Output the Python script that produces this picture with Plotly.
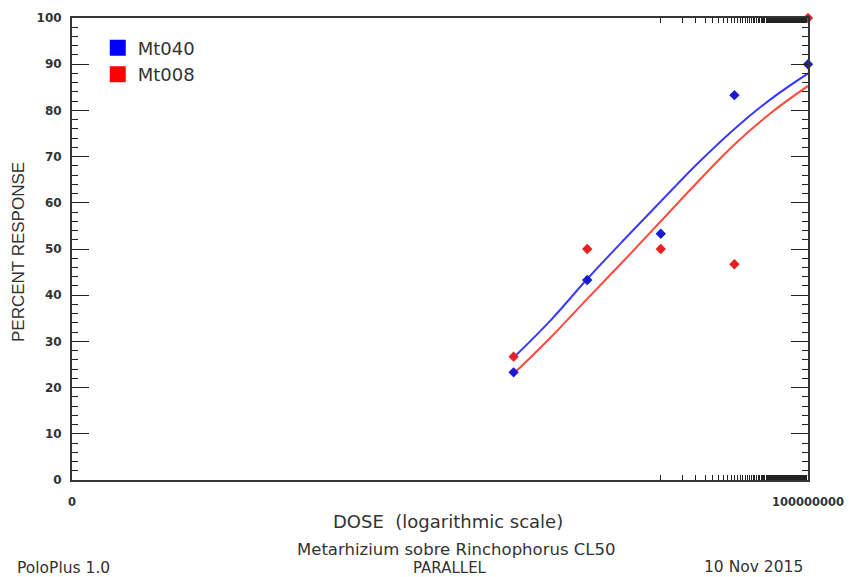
import plotly.graph_objects as go

# Observed data
doses = [1e4, 1e5, 1e6, 1e7, 1e8]
mt040_resp = [23.3, 43.3, 53.3, 83.3, 90.0]
mt008_resp = [26.7, 50.0, 50.0, 46.7, 100.0]

# Fitted (parallel probit) curves
curve_doses = [1e4, 3.16e4, 1e5, 3.16e5, 1e6, 3.16e6, 1e7, 3.16e7, 1e8]
mt040_fit = [26.5, 34.5, 43.5, 52.0, 60.3, 68.5, 76.0, 82.5, 88.0]
mt008_fit = [23.0, 30.8, 39.2, 47.5, 56.0, 64.5, 72.6, 79.5, 85.3]

# Axis ticks (linear steps drawn on a log axis, as PoloPlus does)
x_major = [5e6 * k for k in range(1, 21)]
x_minor = [1e6 * k for k in range(1, 101)]
x_labels = {1e8: "100000000"}

BLUE_LINE = "#3a3aff"
RED_LINE = "#ff4a3a"
BLUE_PT = "#1a1ad0"
RED_PT = "#e82020"
FONT = "DejaVu Sans, Liberation Sans, sans-serif"
TICKFONT = "DejaVu Sans, sans-serif"
TXT = "#333"

fig = go.Figure()

fig.add_trace(go.Scatter(x=curve_doses, y=mt040_fit, mode="lines", line=dict(color=BLUE_LINE, width=2, shape="spline"),
                         showlegend=False, hoverinfo="skip"))
fig.add_trace(go.Scatter(x=curve_doses, y=mt008_fit, mode="lines", line=dict(color=RED_LINE, width=2, shape="spline"),
                         showlegend=False, hoverinfo="skip"))
fig.add_trace(go.Scatter(x=doses, y=mt040_resp, mode="markers", marker=dict(symbol="diamond", size=8, color=BLUE_PT),
                         showlegend=False, cliponaxis=False))
fig.add_trace(go.Scatter(x=doses, y=mt008_resp, mode="markers", marker=dict(symbol="diamond", size=8, color=RED_PT),
                         showlegend=False, cliponaxis=False))
# legend entries (square swatches)
fig.add_trace(go.Scatter(x=[None], y=[None], mode="markers", name="Mt040",
                         marker=dict(symbol="square", size=16, color="#0000ff")))
fig.add_trace(go.Scatter(x=[None], y=[None], mode="markers", name="Mt008",
                         marker=dict(symbol="square", size=16, color="#ff0000")))

tickvals = [0.01] + x_major
ticktext = ["<b>0</b>"] + [("<b>%s</b>" % x_labels[v]) if v in x_labels else "" for v in x_major]

fig.update_xaxes(
    type="log", range=[-2, 8], automargin=False,
    showline=True, linecolor="#333", linewidth=2, mirror="ticks",
    showgrid=False, zeroline=False,
    tickmode="array", tickvals=tickvals, ticktext=ticktext,
    ticks="inside", ticklen=13, tickwidth=1, tickcolor="#222",
    tickfont=dict(family=TICKFONT, size=11.5, color=TXT),
    ticklabelstandoff=10,
    minor=dict(tickmode="array", tickvals=x_minor, ticks="inside", ticklen=5, tickwidth=1, tickcolor="#222", showgrid=False),
)
fig.update_yaxes(
    range=[0, 100], automargin=False,
    showline=True, linecolor="#333", linewidth=2, mirror="ticks",
    showgrid=False, zeroline=False,
    tickmode="linear", tick0=0, dtick=10,
    ticks="inside", ticklen=17, tickwidth=1, tickcolor="#222",
    tickfont=dict(family=TICKFONT, size=12, color=TXT),
    tickprefix="<b>", ticksuffix="</b>",
    ticklabelstandoff=6,
    minor=dict(dtick=2, ticks="inside", ticklen=6, tickwidth=1, tickcolor="#222", showgrid=False),
)

def note(text, x, y, size, xanchor="center", angle=0, family=FONT):
    fig.add_annotation(text=text, xref="paper", yref="paper", x=x, y=y, textangle=angle,
                       showarrow=False, font=dict(family=family, size=size, color=TXT),
                       xanchor=xanchor, yanchor="middle")

note("PERCENT RESPONSE", -0.0734, 0.4935, 17, angle=-90, family="Liberation Sans Narrow, Liberation Sans, sans-serif")
note("DOSE\u00a0\u00a0(logarithmic scale)", 0.511, -0.0909, 18)
note("Metarhizium sobre Rinchophorus CL50", 0.522, -0.1494, 16.5)
note("PARALLEL", 0.514, -0.1905, 15)
note("PoloPlus 1.0", -0.0774, -0.1905, 15.5, xanchor="left")
note("10 Nov 2015", 0.996, -0.1885, 15.5, xanchor="right")

# The page body has an 8px margin, so the figure is 8px smaller than the window on each axis
fig.update_layout(
    width=844, height=569,
    margin=dict(l=64, r=44, t=10, b=97),
    paper_bgcolor="white", plot_bgcolor="white",
    showlegend=True,
    legend=dict(x=0.035, y=0.975, xanchor="left", yanchor="top", bgcolor="rgba(0,0,0,0)",
                font=dict(family=FONT, size=18, color=TXT), itemsizing="trace", tracegroupgap=0),
)

fig.write_html("out.html")
